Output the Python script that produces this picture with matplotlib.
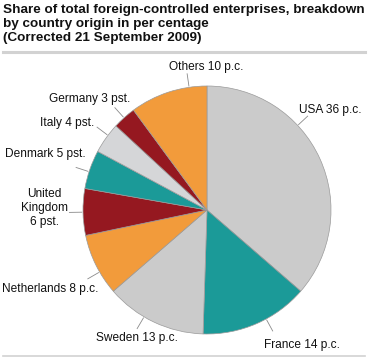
import matplotlib
matplotlib.use("Agg")
import matplotlib.pyplot as plt
import numpy as np

# ---- data ----
countries = ["USA", "France", "Sweden", "Netherlands", "United\nKingdom",
             "Denmark", "Italy", "Germany", "Others"]
values = [36, 14, 13, 8, 6, 5, 4, 3, 10]
units = ["p.c.", "p.c.", "p.c.", "p.c.", "pst.", "pst.", "pst.", "pst.", "p.c."]
colors = ["#cbcbcb", "#1b9a98", "#cbcbcb", "#f29b3b", "#951820",
          "#1b9a98", "#d5d6d8", "#951820", "#f29b3b"]

title = ("Share of total foreign-controlled enterprises, breakdown\n"
         "by country origin in per centage\n"
         "(Corrected 21 September 2009)")

# ---- layout (pixels) ----
W, H = 371, 359
cx, cy, R = 207, 210, 124
# leader angle (deg, math convention), label anchor px, alignment
leader_ang = [43, -61.5, -120.5, 210, 181, 162, 143, 132, 98.3]
label_pos = [(299, 110, "left"), (264, 345, "left"), (96, 338, "left"),
             (2, 289, "left"), (44, 208, "center"), (5, 154, "left"),
             (40, 123, "left"), (49, 99, "left"), (169, 67, "left")]

plt.rcParams["font.family"] = ["Liberation Sans", "DejaVu Sans"]
fig = plt.figure(figsize=(W / 100, H / 100), dpi=100)

ax = fig.add_axes([(cx - R) / W, (H - cy - R) / H, 2 * R / W, 2 * R / H])
ax.pie(values, colors=colors, startangle=90, counterclock=False, radius=1,
       wedgeprops=dict(edgecolor="#9a9a9a", linewidth=0.5))
ax.set_xlim(-1, 1)
ax.set_ylim(-1, 1)
ax.axis("off")

def px2data(px, py):
    return (px - cx) / R, (cy - py) / R

for c, v, u, a, (px, py, ha) in zip(countries, values, units, leader_ang, label_pos):
    t = np.deg2rad(a)
    ax.plot([np.cos(t) * 1.01, np.cos(t) * 1.11], [np.sin(t) * 1.01, np.sin(t) * 1.11],
            color="#8a8a8a", lw=0.6, clip_on=False)
    lbl = f"{c} {v} {u}" if "\n" not in c else f"{c}\n{v} {u}"
    x, y = px2data(px, py)
    ax.text(x, y, lbl, ha=ha, va="center", fontsize=8.6, color="#111111",
            linespacing=1.2, clip_on=False, multialignment="center")

fig.text(3 / W, 1 - 4 / H, title, ha="left", va="top", fontsize=9.7,
         fontweight="bold", color="#111111", linespacing=1.22)

# separator lines
fig.add_artist(plt.Line2D([3 / W, 365 / W], [1 - 52 / H, 1 - 52 / H],
                          color="#d2d2d2", lw=2.2))
fig.add_artist(plt.Line2D([3 / W, 365 / W], [1 - 356 / H, 1 - 356 / H],
                          color="#d2d2d2", lw=1.2))

fig.savefig("out.png", dpi=100)
